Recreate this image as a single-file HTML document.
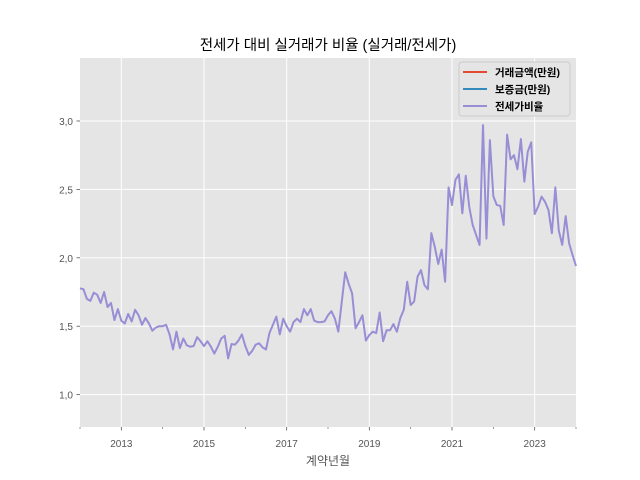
<!DOCTYPE html>
<html><head><meta charset="utf-8"><style>
html,body{margin:0;padding:0;background:#fff;}
svg{display:block;font-family:"Liberation Sans","Noto Sans CJK KR",sans-serif;}
</style></head><body>
<svg id="chart" width="640" height="480" viewBox="0 0 640 480" xmlns="http://www.w3.org/2000/svg">
<rect x="0" y="0" width="640" height="480" fill="#ffffff"/>
<text x="328" y="50" text-anchor="middle" font-size="14.5" fill="#000">전세가 대비 실거래가 비율 (실거래/전세가)</text>
<rect x="80" y="58" width="496" height="369" fill="#e5e5e5"/>
<g id="grid"></g>
<g id="ticks"></g>
<g id="series"></g>
<text x="328" y="465" text-anchor="middle" font-size="12" fill="#555">계약년월</text>
<g>
<rect x="459" y="62" width="111" height="54" rx="3" fill="#e5e5e5" stroke="#cccccc" stroke-width="1"/>
<g>
<line x1="463" y1="72" x2="487" y2="72" stroke="#E24A33" stroke-width="2"/>
<text x="495" y="76" font-size="10.5" font-weight="bold" fill="#000">거래금액(만원)</text></g>
<g>
<line x1="463" y1="89" x2="487" y2="89" stroke="#348ABD" stroke-width="2"/>
<text x="495" y="93" font-size="10.5" font-weight="bold" fill="#000">보증금(만원)</text></g>
<g>
<line x1="463" y1="106" x2="487" y2="106" stroke="#988ED5" stroke-width="2"/>
<text x="495" y="110" font-size="10.5" font-weight="bold" fill="#000">전세가비율</text></g>
</g>
</svg>
<script>
const startYear = 2012;
const ratioValues = [1.777,1.77,1.70,1.685,1.745,1.73,1.67,1.75,1.64,1.67,1.545,1.625,
1.54,1.52,1.59,1.535,1.62,1.58,1.51,1.56,1.52,1.467,1.49,1.50,
1.50,1.51,1.44,1.33,1.46,1.34,1.41,1.36,1.35,1.355,1.42,1.39,
1.355,1.39,1.35,1.30,1.35,1.41,1.43,1.265,1.37,1.365,1.395,1.44,
1.355,1.29,1.32,1.365,1.375,1.345,1.33,1.45,1.51,1.57,1.44,1.555,
1.50,1.46,1.53,1.555,1.53,1.625,1.58,1.625,1.54,1.53,1.53,1.535,
1.58,1.61,1.555,1.46,1.68,1.894,1.81,1.74,1.485,1.53,1.58,1.395,
1.435,1.46,1.45,1.60,1.39,1.47,1.47,1.516,1.46,1.56,1.62,1.825,
1.655,1.68,1.862,1.91,1.80,1.77,2.18,2.08,1.955,2.06,1.825,2.515,
2.386,2.57,2.61,2.325,2.60,2.374,2.24,2.167,2.094,2.97,2.14,2.86,
2.45,2.386,2.38,2.24,2.90,2.72,2.75,2.647,2.868,2.557,2.776,2.844,
2.32,2.374,2.447,2.41,2.35,2.18,2.515,2.20,2.094,2.305,2.106,2.02,1.94];
const yTicks = [1.0,1.5,2.0,2.5,3.0];
const yTickLabels = ["1,0","1,5","2,0","2,5","3,0"];
const xMajorYears = [2013,2015,2017,2019,2021,2023];
const xMinorYears = [2012,2014,2016,2018,2020,2022,2024];

const NS="http://www.w3.org/2000/svg";
const X0=80,X1=576,Y0=58,Y1=427;
const monthsSpan=144;
function xScale(m){return X0+(X1-X0)*m/monthsSpan;}
function xYear(y){return xScale((y-startYear)*12);}
function yScale(v){return 121+(3.0-v)*136.8;}
function mk(tag,attrs,parent){const e=document.createElementNS(NS,tag);for(const k in attrs)e.setAttribute(k,attrs[k]);parent.appendChild(e);return e;}
const grid=document.getElementById('grid'),ticks=document.getElementById('ticks'),series=document.getElementById('series');
yTicks.forEach((v,i)=>{
  const y=yScale(v);
  const g=mk('line',{x1:X0,x2:X1,y1:y,y2:y,stroke:'#fff','stroke-width':1},grid);
  
  
  const t=mk('line',{x1:X0-3.5,x2:X0,y1:y,y2:y,stroke:'#555','stroke-width':0.8},ticks);
  
  
  const l=mk('text',{x:X0-7,y:y+4,'text-anchor':'end','font-size':10,fill:'#555'},ticks);
  l.textContent=yTickLabels[i];
  
  
});
xMajorYears.forEach(yr=>{
  const x=xYear(yr);
  const g=mk('line',{x1:x,x2:x,y1:Y0,y2:Y1,stroke:'#fff','stroke-width':1},grid);
  
  
  const t=mk('line',{x1:x,x2:x,y1:Y1,y2:Y1+3.5,stroke:'#555','stroke-width':0.8},ticks);
  
  
  const l=mk('text',{x:x,y:Y1+20,'text-anchor':'middle','font-size':10,fill:'#555'},ticks);
  l.textContent=String(yr);
  
  
});
xMinorYears.forEach(yr=>{
  const x=xYear(yr);
  const t=mk('line',{x1:x,x2:x,y1:Y1,y2:Y1+2,stroke:'#555','stroke-width':0.6},ticks);
  
  
});
const pts=ratioValues.map((v,i)=>xScale(i).toFixed(2)+','+yScale(v).toFixed(2)).join(' ');
const line=mk('polyline',{points:pts,fill:'none',stroke:'#988ED5','stroke-width':2,'stroke-linejoin':'round'},series);


</script>
</body></html>
